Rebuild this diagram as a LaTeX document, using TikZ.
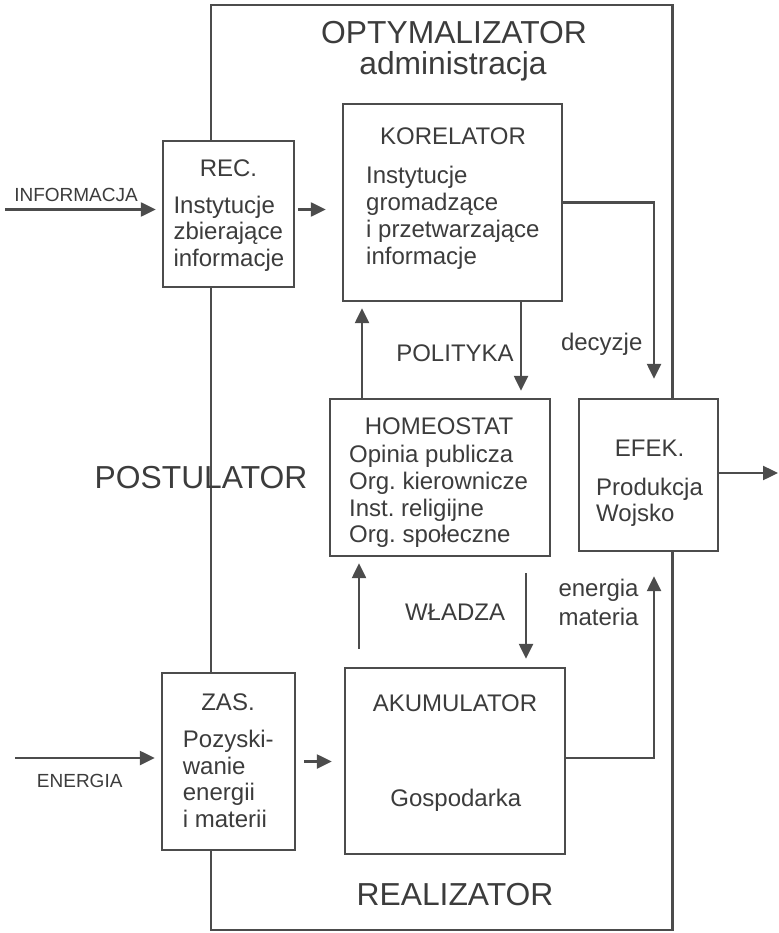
\documentclass[tikz,border=0pt]{standalone}
\usepackage{fontspec}
\setmainfont{Liberation Sans}
\usetikzlibrary{arrows.meta}
\definecolor{ink}{HTML}{3C3C3C}
\definecolor{edge}{HTML}{4C4C4C}
\frenchspacing
% stacked lines of text, first baseline on the node's base anchor
\newcommand\boxlines[1]{\begin{tabular}[t]{@{}l@{}}#1\end{tabular}}
\begin{document}
\begin{tikzpicture}[x=1pt,y=-1pt,
  frame/.style={draw=edge, line width=2.4pt, inner sep=0pt},
  box/.style={draw=edge, line width=2.4pt, fill=white, inner sep=0pt},
  arr/.style={draw=edge, line width=2.4pt, -{Triangle[length=15pt,width=14pt]}},
  big/.style={text=ink, inner sep=0pt, font=\fontsize{31.8}{36}\selectfont},
  lbl/.style={text=ink, inner sep=0pt, font=\fontsize{24}{26.7}\selectfont},
  small/.style={text=ink, inner sep=0pt, font=\fontsize{19}{22}\selectfont},
]
\useasboundingbox (0,0) rectangle (778,933);

% outer system frame
\node[frame, minimum width=461.5pt, minimum height=925pt] (sys) at (441.75,467.5) {};

% big area titles
\node[big, anchor=base] (tOpt) at (454,44) {OPTYMALIZATOR};
\node[big, anchor=base] (tAdm) at (453,75) {administracja};
\node[big, anchor=base] (tPost) at (201,488.3) {POSTULATOR};
\node[big, anchor=base] (tReal) at (455,905.7) {REALIZATOR};

% blocks
\node[box, minimum width=131pt, minimum height=146pt] (rec) at (228.5,214) {};
\node[box, minimum width=219pt, minimum height=197pt] (kor) at (452.5,202.5) {};
\node[box, minimum width=220pt, minimum height=157pt] (hom) at (440,477.5) {};
\node[box, minimum width=139pt, minimum height=152pt] (efek) at (648.5,475) {};
\node[box, minimum width=220pt, minimum height=186pt] (aku) at (455,761) {};
\node[box, minimum width=133pt, minimum height=177pt] (zas) at (228.5,761.5) {};

% block texts
\node[lbl, anchor=base] (recT) at (228.5,176.7) {REC.};
\node[lbl, anchor=base west] (recB) at (173.3,213.3)
  {\boxlines{Instytucje\\zbierające\\informacje}};
\node[lbl, anchor=base] (korT) at (453,145) {KORELATOR};
\node[lbl, anchor=base west] (korB) at (366,184)
  {\boxlines{Instytucje\\gromadzące\\i przetwarzające\\informacje}};
\node[lbl, anchor=base] (homT) at (439,434) {HOMEOSTAT};
\node[lbl, anchor=base west] (homB) at (349,462.7)
  {\boxlines{Opinia publicza\\Org. kierownicze\\Inst. religijne\\Org. społeczne}};
\node[lbl, anchor=base] (efekT) at (649.5,456) {EFEK.};
\node[lbl, anchor=base west] (efekB) at (596,495)
  {\boxlines{Produkcja\\Wojsko}};
\node[lbl, anchor=base] (akuT) at (455,711.7) {AKUMULATOR};
\node[lbl, anchor=base] (akuB) at (455.8,806.7) {Gospodarka};
\node[lbl, anchor=base] (zasT) at (228,710) {ZAS.};
\node[lbl, anchor=base west] (zasB) at (182.7,747.3)
  {\boxlines{Pozyski-\\wanie\\energii\\i materii}};

% flow labels
\node[lbl, anchor=base] (lPol) at (455,361.7) {POLITYKA};
\node[lbl, anchor=base] (lDec) at (601.7,350) {decyzje};
\node[lbl, anchor=base] (lWla) at (455,620) {WŁADZA};
\node[lbl, anchor=base west, font=\fontsize{24}{28.3}\selectfont] (lEn) at (558.3,596.7)
  {\boxlines{energia\\materia}};
\node[small, anchor=base] (lInfo) at (76,201.7) {INFORMACJA};
\node[small, anchor=base] (lEnergy) at (79.7,787.3) {ENERGIA};

% connector anchors
\coordinate (infoSrc) at (5,209.5);
\coordinate (energySrc) at (15,758);
\coordinate (decCorner) at (654,202.5);
\coordinate (enCorner) at (654,758);
\coordinate (polX) at (521,0);
\coordinate (upX) at (362,0);
\coordinate (up2X) at (359,0);
\coordinate (wlaX) at (526,0);
\coordinate (outEnd) at (778,473);

% connectors
\draw[arr, shorten >=6pt] (infoSrc) -- (rec.west |- infoSrc);
\draw[arr, shorten <=3pt, shorten >=16pt] (rec.east |- infoSrc) -- (kor.west |- infoSrc);
\draw[arr, shorten >=19pt] (kor.east) -- (decCorner) -- (decCorner |- efek.north);
\draw[arr, shorten >=7pt] (kor.south -| polX) -- (hom.north -| polX);
\draw[arr, shorten >=6pt] (hom.north -| upX) -- (kor.south -| upX);
\draw[arr] (efek.east |- outEnd) -- (outEnd);
\draw[arr, shorten <=18pt, shorten >=6pt] (aku.north -| up2X) -- (hom.south -| up2X);
\draw[arr, shorten <=16pt, shorten >=8pt] (hom.south -| wlaX) -- (aku.north -| wlaX);
\draw[arr, shorten >=24pt] (aku.east |- enCorner) -- (enCorner) -- (enCorner |- efek.south);
\draw[arr, shorten >=6pt] (energySrc) -- (zas.west |- energySrc);
\draw[arr, shorten <=8pt, shorten >=12pt] (zas.east) -- (aku.west |- zas.east);
\end{tikzpicture}
\end{document}
